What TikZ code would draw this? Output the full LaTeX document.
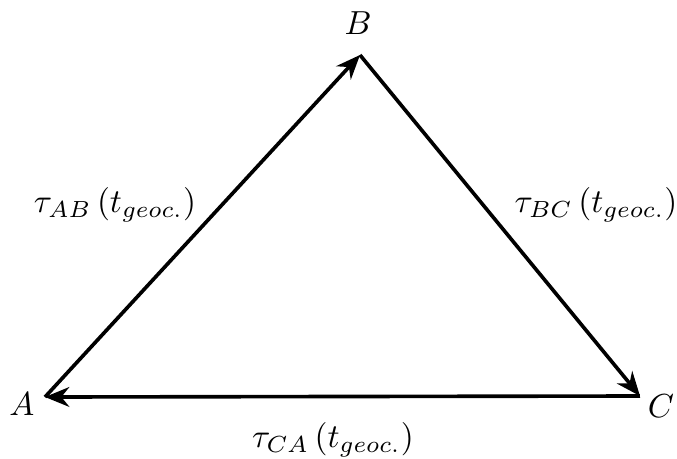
\documentclass[tikz,border=0pt]{standalone}
\usetikzlibrary{arrows.meta}
\begin{document}
\begin{tikzpicture}[x=0.33pt,y=-0.33pt,
  edge/.style={line width=1.2pt,-{Stealth[length=8pt,width=6.5pt,inset=2.6pt]}},
  lbl/.style={inner sep=0pt,scale=1.1}]
\useasboundingbox (0,0) rectangle (677,458);
\coordinate (pA) at (45,397);
\coordinate (pB) at (360,55);
\coordinate (pC) at (640,396);
\node[lbl] (A) at (22,404) {$A$};
\node[lbl] (B) at (358,23) {$B$};
\node[lbl] (C) at (661,406) {$C$};
\draw[edge] (pA) -- (pB);
\draw[edge] (pB) -- (pC);
\draw[edge] (pC) -- (pA);
\node[lbl] (tAB) at (115,205) {$\tau_{AB}\,(t_{geoc.})$};
\node[lbl] (tBC) at (596,205) {$\tau_{BC}\,(t_{geoc.})$};
\node[lbl] (tCA) at (333,440) {$\tau_{CA}\,(t_{geoc.})$};
\end{tikzpicture}
\end{document}
